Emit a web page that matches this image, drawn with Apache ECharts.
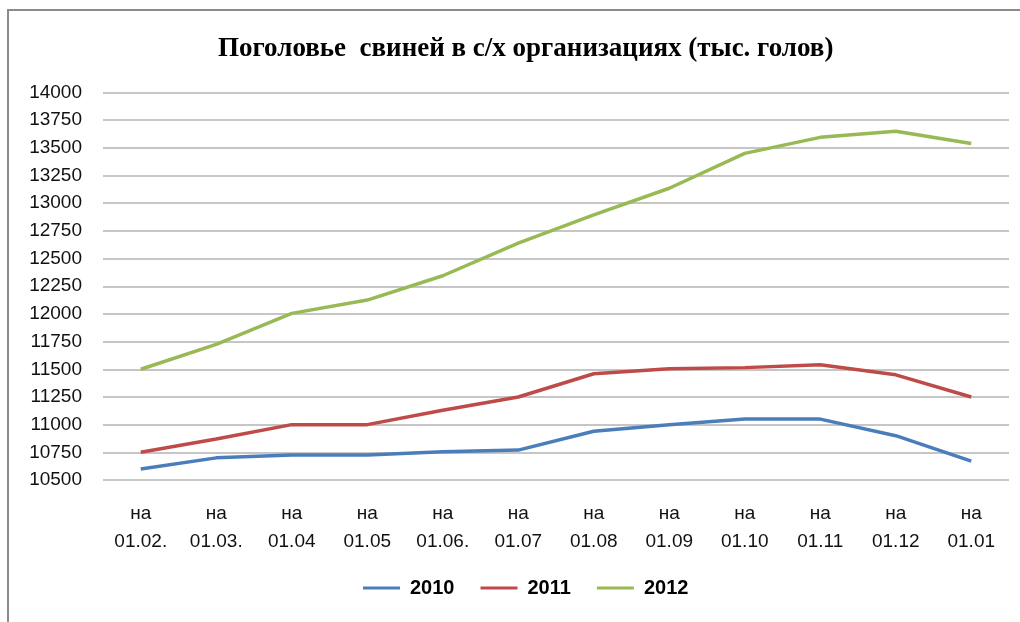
<!DOCTYPE html>
<html>
<head>
<meta charset="utf-8">
<script src="https://cdn.jsdelivr.net/npm/echarts@6/dist/echarts.min.js"></script>
<style>
html,body{margin:0;padding:0;background:#fff;}
#chart{width:1020px;height:622px;}
</style>
</head>
<body>
<div id="chart"></div>
<script>
const categories = ['на\n01.02.', 'на\n01.03.', 'на\n01.04', 'на\n01.05', 'на\n01.06.', 'на\n01.07', 'на\n01.08', 'на\n01.09', 'на\n01.10', 'на\n01.11', 'на\n01.12', 'на\n01.01'];
const s2010 = [10600, 10700, 10725, 10725, 10755, 10770, 10940, 11000, 11050, 11050, 10900, 10670];
const s2011 = [10750, 10870, 11000, 11000, 11130, 11250, 11460, 11505, 11515, 11540, 11450, 11250];
const s2012 = [11500, 11725, 12005, 12125, 12345, 12640, 12895, 13135, 13450, 13595, 13650, 13540];
const seriesNames = ['2010', '2011', '2012'];
const colors = ['#4a7ebb', '#be4b48', '#98b954'];

const chart = echarts.init(document.getElementById('chart'), null, {renderer: 'canvas'});
const font = 'Liberation Sans';
chart.setOption({
  animation: false,
  backgroundColor: '#ffffff',
  color: colors,
  graphic: [{
    type: 'rect',
    shape: {x: 8, y: 10, width: 1040, height: 700},
    style: {fill: 'none', stroke: '#8c8c8c', lineWidth: 2},
    silent: true
  }],
  title: {
    text: 'Поголовье  свиней в с/х организациях (тыс. голов)',
    left: 213,
    top: 31,
    textStyle: {fontFamily: 'Liberation Serif', fontWeight: 'bold', fontSize: 27, color: '#000'}
  },
  legend: {
    data: seriesNames,
    bottom: 19,
    left: 358,
    icon: 'rect',
    itemWidth: 37,
    itemHeight: 3,
    itemGap: 26,
    textStyle: {fontFamily: font, fontWeight: 'bold', fontSize: 20, color: '#000', padding: [0, 0, 0, 5]}
  },
  grid: {left: 103, right: 11, top: 92.5, bottom: 142},
  xAxis: {
    type: 'category',
    data: categories,
    boundaryGap: true,
    axisLine: {show: false},
    axisTick: {show: false},
    axisLabel: {
      fontFamily: font, fontSize: 19, color: '#111', lineHeight: 28,
      margin: 20, interval: 0, verticalAlign: 'top'
    }
  },
  yAxis: {
    type: 'value',
    min: 10500,
    max: 14000,
    interval: 250,
    axisLine: {show: false},
    axisTick: {show: false},
    splitLine: {lineStyle: {color: '#b3b3b3', width: 1.5}},
    axisLabel: {fontFamily: font, fontSize: 19, color: '#111', margin: 21, formatter: v => String(v)}
  },
  series: [
    {name: seriesNames[0], type: 'line', data: s2010, symbol: 'none', lineStyle: {width: 3.5, color: colors[0]}},
    {name: seriesNames[1], type: 'line', data: s2011, symbol: 'none', lineStyle: {width: 3.5, color: colors[1]}},
    {name: seriesNames[2], type: 'line', data: s2012, symbol: 'none', lineStyle: {width: 3.5, color: colors[2]}}
  ]
});
</script>
</body>
</html>
